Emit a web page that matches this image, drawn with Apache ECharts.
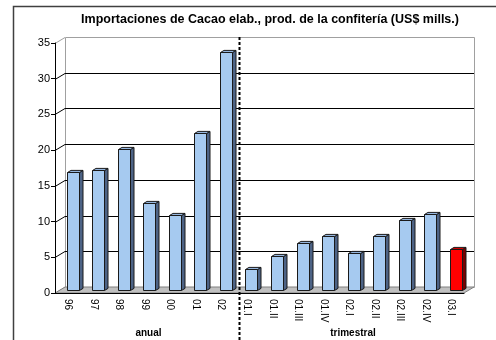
<!DOCTYPE html>
<html>
<head>
<meta charset="utf-8">
<script src="https://cdn.jsdelivr.net/npm/echarts@6/dist/echarts.min.js"></script>
<style>
  html, body { margin: 0; padding: 0; background: #fff; }
  #chart { width: 496px; height: 340px; }
</style>
</head>
<body>
<div id="chart"></div>
<script>
// Imports of processed cocoa and confectionery products (US$ millions)
const categories = ['96', '97', '98', '99', '00', '01', '02',
  '01.I', '01.II', '01.III', '01.IV', '02.I', '02.II', '02.III', '02.IV', '03.I'];
const values = [16.5, 16.9, 19.8, 12.2, 10.6, 22.0, 33.3,
  3.0, 4.8, 6.6, 7.6, 5.2, 7.6, 9.9, 10.7, 5.8];
const yTicks = [0, 5, 10, 15, 20, 25, 30, 35];
const groupNames = ['anual', 'trimestral'];
const groupSizes = [7, 9];

const FONT = '"Liberation Sans", Arial, Helvetica, sans-serif';
// pseudo-3D depth of the walls (pixels) and where the bars sit inside it
const DX = 10, DY = -6;
const BAR_POS = 0.45, BAR_DEPTH = 0.35, BAR_WIDTH = 0.45;

const groupRanges = [];
groupSizes.reduce((start, n, k) => {
  groupRanges.push([start, start + n - 1, groupNames[k]]);
  return start + n;
}, 0);

const chart = echarts.init(document.getElementById('chart'), null, { renderer: 'canvas' });

function renderWalls(params, api) {
  const cs = params.coordSys;
  const x = cs.x, y = cs.y, w = cs.width, h = cs.height;
  const top = yTicks[yTicks.length - 1];
  const kids = [];
  // left side wall
  kids.push({ type: 'polygon', shape: { points: [[x, y], [x + DX, y + DY], [x + DX, y + h + DY], [x, y + h]] },
    style: { fill: '#fff' } });
  // back wall
  kids.push({ type: 'rect', shape: { x: x + DX + 0.5, y: y + DY + 0.5, width: w, height: h },
    style: { fill: '#fff', stroke: '#a0a0a0', lineWidth: 1 } });
  yTicks.forEach(v => {
    const py = Math.round(api.coord([0, v])[1]) + 0.5;
    if (v > 0 && v < top) {
      kids.push({ type: 'line', shape: { x1: x + DX, y1: py + DY, x2: x + DX + w, y2: py + DY },
        style: { stroke: '#000', lineWidth: 1 } });
    }
    kids.push({ type: 'line', shape: { x1: x, y1: py, x2: x + DX, y2: py + DY },
      style: { stroke: v === top ? '#a0a0a0' : '#000', lineWidth: 1 } });
  });
  // floor
  const fy = y + h;
  kids.push({ type: 'polygon', shape: { points: [[x, fy], [x + w, fy], [x + w + DX, fy + DY], [x + DX, fy + DY]] },
    style: { fill: '#c0c0c0', stroke: '#808080', lineWidth: 1 } });
  return { type: 'group', children: kids };
}

function renderBar(params, api) {
  const i = api.value(0), v = api.value(1);
  const base = api.coord([i, 0]);
  const tip = api.coord([i, v]);
  const band = api.size([1, 0])[0];
  const bw = band * BAR_WIDTH;
  const ox = DX * BAR_POS, oy = DY * BAR_POS;
  const bx = DX * BAR_DEPTH, by = DY * BAR_DEPTH;
  const x0 = Math.round(base[0] - bw / 2 + ox) + 0.5, x1 = x0 + Math.round(bw);
  const yT = Math.round(tip[1] + oy) + 0.5, yB = Math.round(base[1] + oy) + 0.5;
  const last = i === values.length - 1;
  const front = last ? '#ff0000' : '#a6caf0';
  const side = last ? '#7a0000' : '#4d6385';
  const lid = last ? '#d40000' : '#95b6de';
  const edge = { stroke: '#1a1a1a', lineWidth: 1 };
  return {
    type: 'group',
    children: [
      { type: 'polygon', shape: { points: [[x1, yT], [x1 + bx, yT + by], [x1 + bx, yB + by], [x1, yB]] },
        style: Object.assign({ fill: side }, edge) },
      { type: 'polygon', shape: { points: [[x0, yT], [x0 + bx, yT + by], [x1 + bx, yT + by], [x1, yT]] },
        style: Object.assign({ fill: lid }, edge) },
      { type: 'rect', shape: { x: x0, y: yT, width: x1 - x0, height: yB - yT },
        style: Object.assign({ fill: front }, edge) }
    ]
  };
}

function renderGroups(params, api) {
  const cs = params.coordSys;
  const a = api.coord([api.value(0), 0])[0];
  const b = api.coord([api.value(1), 0])[0];
  const name = groupRanges[params.dataIndex][2];
  const kids = [{
    type: 'text',
    style: { x: (a + b) / 2 + DX * 0.4, y: cs.y + cs.height + 40, text: name,
      align: 'center', verticalAlign: 'middle', font: 'bold 10px ' + FONT, fill: '#000' }
  }];
  if (params.dataIndex > 0) {
    const prev = api.coord([api.value(0) - 1, 0])[0];
    const sx = Math.round((prev + a) / 2 + DX * 0.5) + 0.5;
    kids.push({ type: 'line', shape: { x1: sx, y1: cs.y + DY, x2: sx, y2: api.getHeight() },
      style: { stroke: '#000', lineWidth: 2, lineDash: [3, 2] } });
  }
  return { type: 'group', children: kids };
}

chart.setOption({
  animation: false,
  backgroundColor: '#fff',
  title: {
    text: 'Importaciones de Cacao elab., prod. de la confitería (US$ mills.)',
    left: 265, top: 8, textAlign: 'center',
    textStyle: { fontFamily: FONT, fontSize: 12.5, fontWeight: 'bold', color: '#000' }
  },
  graphic: [{
    type: 'rect', z: 100, silent: true,
    shape: { x: 13.5, y: 6.5, width: 520, height: 400 },
    style: { fill: 'none', stroke: '#404040', lineWidth: 1.5 }
  }],
  grid: { left: 55, right: 32, top: 43, bottom: 47 },
  xAxis: {
    type: 'category', data: categories, z: 5,
    axisLine: { lineStyle: { color: '#000', width: 1 } },
    axisTick: { length: 4, lineStyle: { color: '#000' } },
    axisLabel: { rotate: -90, margin: 6, fontFamily: FONT, fontSize: 10, color: '#000', interval: 0 },
    splitLine: { show: false }
  },
  yAxis: {
    type: 'value', min: 0, max: 35, interval: 5, z: 5,
    axisLine: { show: true, lineStyle: { color: '#000', width: 1 } },
    axisTick: { show: true, length: 4, lineStyle: { color: '#000' } },
    axisLabel: { margin: 5, fontFamily: FONT, fontSize: 11, color: '#000' },
    splitLine: { show: false }
  },
  series: [
    { type: 'custom', z: -1, silent: true, renderItem: renderWalls, data: [[0, 0]], encode: { x: 0, y: 1 } },
    { type: 'custom', z: 3, renderItem: renderBar, data: values.map((v, i) => [i, v]), encode: { x: 0, y: 1 } },
    { type: 'custom', z: 4, silent: true, renderItem: renderGroups,
      data: groupRanges.map(g => [g[0], g[1]]), encode: { x: [0, 1] } }
  ]
});
</script>
</body>
</html>
